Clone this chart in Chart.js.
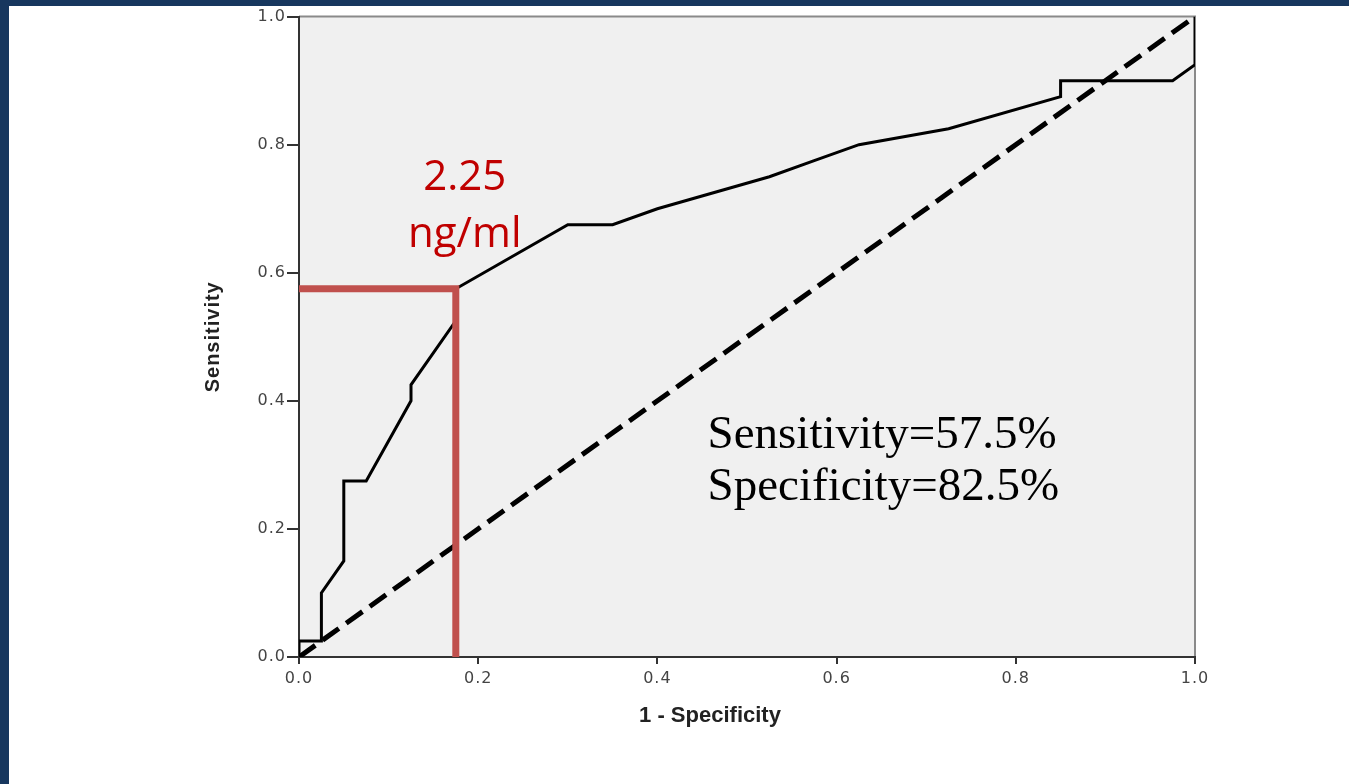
<!DOCTYPE html>
<html>
<head>
<meta charset="utf-8">
<script src="https://cdn.jsdelivr.net/npm/chart.js@4.4.1/dist/chart.umd.min.js"></script>
<style>
  html, body { margin: 0; padding: 0; background: #17375e; width: 1349px; height: 784px; overflow: hidden; }
  #wrap { position: absolute; left: 9px; top: 6px; width: 1340px; height: 778px; background: #fff; }
  canvas { display: block; }
</style>
</head>
<body>
<div id="wrap"><canvas id="roc" width="1340" height="778"></canvas></div>
<script>
// ROC curve points (1 - specificity, sensitivity)
const rocX = [0, 0, 0.025, 0.025, 0.05, 0.05, 0.075, 0.125, 0.125, 0.175, 0.175, 0.3, 0.35, 0.4, 0.525, 0.575, 0.625, 0.725, 0.85, 0.85, 0.975, 1, 1];
const rocY = [0, 0.025, 0.025, 0.1, 0.15, 0.275, 0.275, 0.4, 0.425, 0.525, 0.575, 0.675, 0.675, 0.7, 0.75, 0.775, 0.8, 0.825, 0.875, 0.9, 0.9, 0.925, 1];

// reference diagonal
const diagX = [0, 1];
const diagY = [0, 1];

// cut-off marker at 2.25 ng/ml
const cutX = [0, 0.175, 0.175];
const cutY = [0.575, 0.575, 0];

const tickLabels = ["0.0", "0.2", "0.4", "0.6", "0.8", "1.0"];
const cutLabel = ["2.25", "ng/ml"];
const statLines = ["Sensitivity=57.5%", "Specificity=82.5%"];
const xTitle = "1 - Specificity";
const yTitle = "Sensitivity";

const toPoints = (xs, ys) => xs.map((x, i) => ({ x, y: ys[i] }));
const tickText = (v) => tickLabels[Math.round(v / 0.2)] ?? "";

const plotFrame = {
  id: "plotFrame",
  beforeDraw(chart) {
    const { ctx, chartArea: a } = chart;
    ctx.save();
    ctx.fillStyle = "#f0f0f0";
    ctx.fillRect(a.left, a.top, a.width, a.height);
    ctx.strokeStyle = "#8a8a8a";
    ctx.lineWidth = 2;
    ctx.beginPath();
    ctx.moveTo(a.left, a.top);
    ctx.lineTo(a.right, a.top);
    ctx.lineTo(a.right, a.bottom);
    ctx.stroke();
    ctx.restore();
    // the source axis text is drawn wide
    ctx.letterSpacing = "1px";
  },
  beforeDatasetsDraw(chart) {
    chart.ctx.letterSpacing = "0px";
  },
  afterDraw(chart) {
    const { ctx, scales } = chart;
    const x = scales.x, y = scales.y;
    ctx.save();
    ctx.letterSpacing = "0px";

    // cut-off label
    ctx.fillStyle = "#c00000";
    ctx.font = "42px 'Open Sans'";
    ctx.textAlign = "center";
    ctx.textBaseline = "alphabetic";
    const cx = x.getPixelForValue(0.185);
    ctx.fillText(cutLabel[0], cx, y.getPixelForValue(0.73));
    ctx.fillText(cutLabel[1], cx, y.getPixelForValue(0.64));

    // sensitivity / specificity
    ctx.fillStyle = "#000";
    ctx.font = "47px 'Liberation Serif'";
    ctx.textAlign = "left";
    const sx = x.getPixelForValue(0.456);
    ctx.fillText(statLines[0], sx, y.getPixelForValue(0.327));
    ctx.fillText(statLines[1], sx, y.getPixelForValue(0.245));

    // x axis title
    ctx.fillStyle = "#222";
    ctx.font = "bold 22px 'Liberation Sans'";
    ctx.textAlign = "center";
    ctx.fillText(xTitle, 701, 716);
    ctx.restore();
  },
};

new Chart(document.getElementById("roc"), {
  type: "scatter",
  data: {
    datasets: [
      {
        label: "cut-off",
        data: toPoints(cutX, cutY),
        showLine: true,
        borderColor: "#c0504d",
        borderWidth: 7,
        borderCapStyle: "butt",
        borderJoinStyle: "miter",
        pointRadius: 0,
        order: 0,
      },
      {
        label: "ROC",
        data: toPoints(rocX, rocY),
        showLine: true,
        borderColor: "#000",
        borderWidth: 3,
        pointRadius: 0,
        tension: 0,
        order: 1,
      },
      {
        label: "Reference",
        data: toPoints(diagX, diagY),
        showLine: true,
        borderColor: "#000",
        borderWidth: 5,
        borderDash: [20, 9],
        pointRadius: 0,
        order: 2,
      },
    ],
  },
  options: {
    responsive: false,
    devicePixelRatio: 1,
    animation: false,
    layout: { padding: { left: 190, right: 154, top: 9, bottom: 0 } },
    plugins: {
      legend: { display: false },
      tooltip: { enabled: false },
    },
    scales: {
      x: {
        type: "linear",
        min: 0,
        max: 1,
        afterFit: (s) => { s.height = 127; },
        border: { display: true, color: "#333", width: 2 },
        grid: { drawOnChartArea: false, drawTicks: true, tickLength: 7, color: "#333", lineWidth: 2 },
        ticks: {
          stepSize: 0.2,
          padding: 5,
          color: "#444",
          font: { family: "'DejaVu Sans'", size: 16 },
          callback: tickText,
          maxRotation: 0,
        },
      },
      y: {
        type: "linear",
        min: 0,
        max: 1,
        afterFit: (s) => { s.width = 100; },
        border: { display: true, color: "#333", width: 2 },
        grid: { drawOnChartArea: false, drawTicks: true, tickLength: 12, color: "#333", lineWidth: 2 },
        ticks: {
          stepSize: 0.2,
          padding: 1,
          color: "#444",
          font: { family: "'DejaVu Sans'", size: 16 },
          callback: tickText,
        },
        title: {
          display: true,
          text: yTitle,
          color: "#222",
          font: { family: "'Liberation Sans'", size: 20, weight: "bold" },
          padding: { top: 2, bottom: 0 },
        },
      },
    },
  },
  plugins: [plotFrame],
});
</script>
</body>
</html>
